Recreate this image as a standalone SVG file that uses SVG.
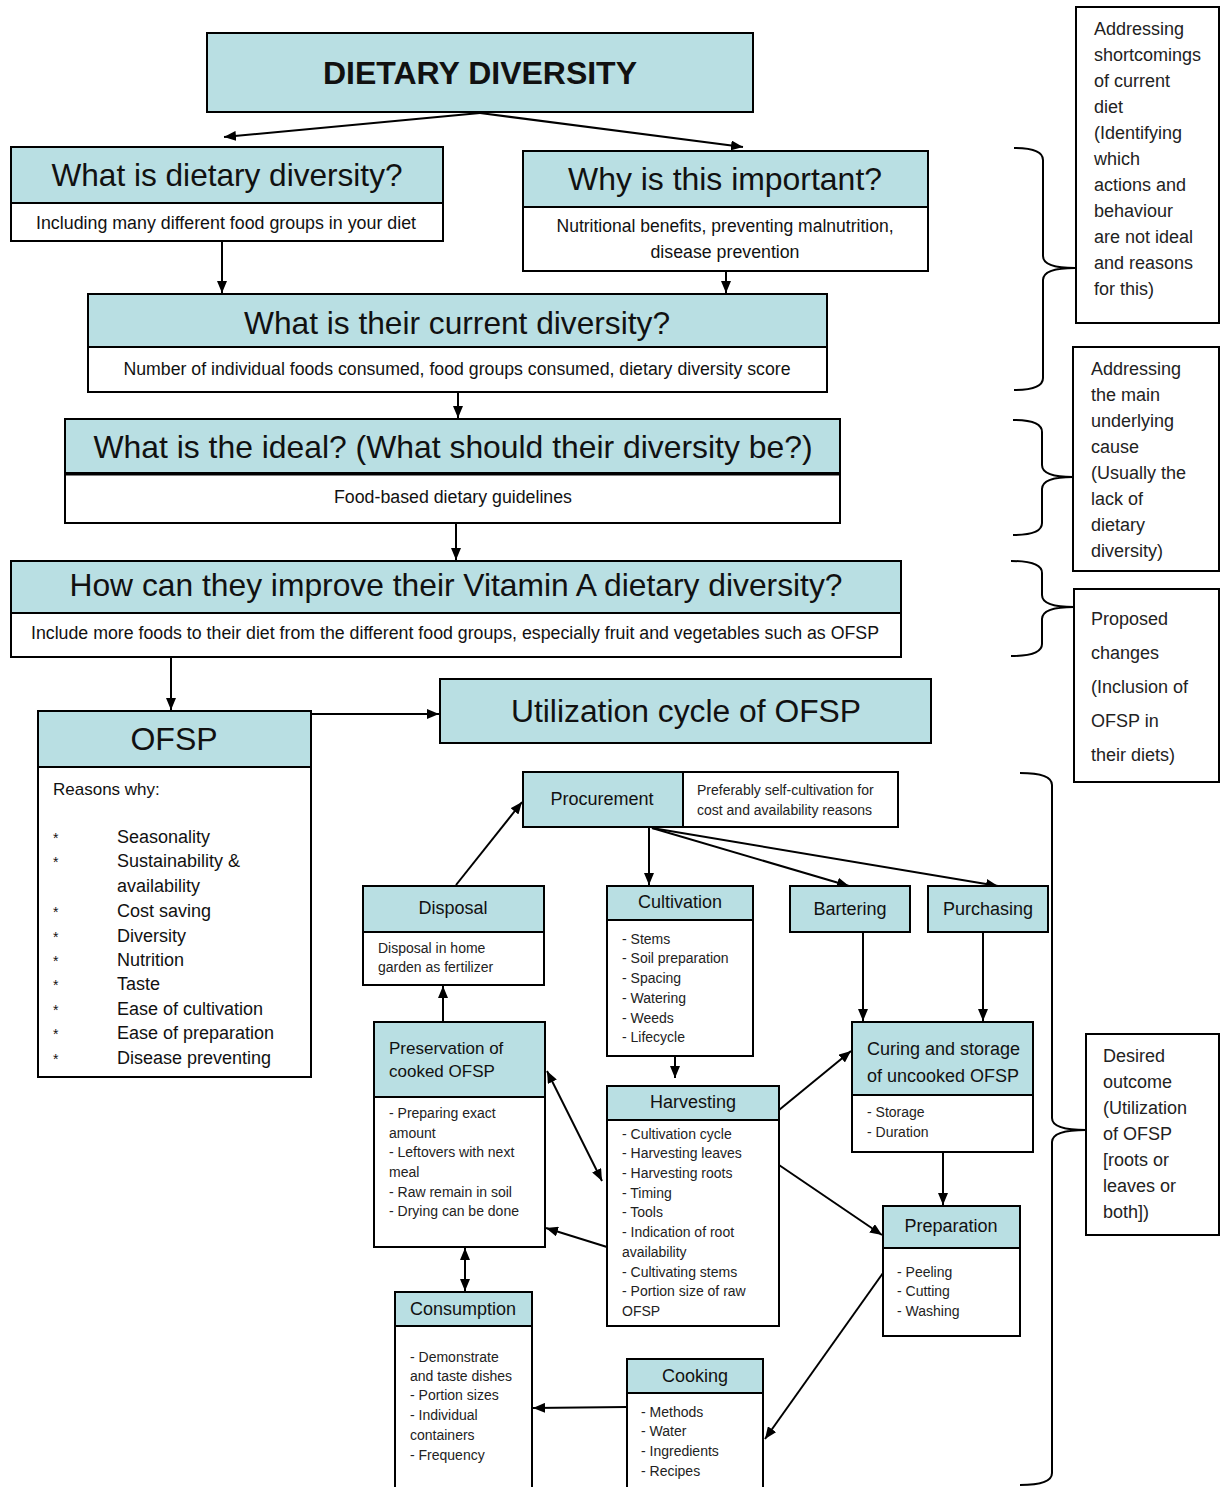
<svg xmlns="http://www.w3.org/2000/svg" width="1221" height="1487" viewBox="0 0 1221 1487">
<defs>
<style>
.h{fill:#B9DFE3;stroke:#000;stroke-width:2}
.b{fill:#fff;stroke:#000;stroke-width:2}
text{font-family:"Liberation Sans",Arial,sans-serif;fill:#111}
.t32{font-size:32px}
.t18{font-size:18px}
.t14{font-size:14px;fill:#222}
.m{text-anchor:middle}
.c{stroke:#000;stroke-width:2;fill:none}
.br{stroke:#000;stroke-width:2;fill:none}
.r{font-size:18px;fill:#222}
</style>
<marker id="arr" viewBox="0 0 12 10" refX="12" refY="5" markerWidth="12" markerHeight="10" markerUnits="userSpaceOnUse" orient="auto-start-reverse">
<path d="M0,0 L12,5 L0,10 z" fill="#000"/>
</marker>
</defs>
<rect width="1221" height="1487" fill="#fff"/>

<g id="connectors">
<line class="c" x1="480" y1="113" x2="224" y2="137" marker-end="url(#arr)"/>
<line class="c" x1="480" y1="113" x2="743" y2="147" marker-end="url(#arr)"/>
<line class="c" x1="222" y1="242" x2="222" y2="293" marker-end="url(#arr)"/>
<line class="c" x1="726" y1="271" x2="726" y2="293" marker-end="url(#arr)"/>
<line class="c" x1="458" y1="392" x2="458" y2="418" marker-end="url(#arr)"/>
<line class="c" x1="456" y1="523" x2="456" y2="560" marker-end="url(#arr)"/>
<line class="c" x1="171" y1="657" x2="171" y2="710" marker-end="url(#arr)"/>
<line class="c" x1="312" y1="714" x2="439" y2="714" marker-end="url(#arr)"/>
<line class="c" x1="456" y1="885" x2="522" y2="802" marker-end="url(#arr)"/>
<line class="c" x1="649" y1="827" x2="649" y2="885" marker-end="url(#arr)"/>
<line class="c" x1="652" y1="828" x2="849" y2="886" marker-end="url(#arr)"/>
<line class="c" x1="652" y1="828" x2="998" y2="886" marker-end="url(#arr)"/>
<line class="c" x1="863" y1="932" x2="863" y2="1021" marker-end="url(#arr)"/>
<line class="c" x1="983" y1="932" x2="983" y2="1021" marker-end="url(#arr)"/>
<line class="c" x1="943" y1="1152" x2="943" y2="1205" marker-end="url(#arr)"/>
<line class="c" x1="675" y1="1056" x2="675" y2="1078" marker-end="url(#arr)"/>
<line class="c" x1="779" y1="1110" x2="851" y2="1051" marker-end="url(#arr)"/>
<line class="c" x1="779" y1="1165" x2="882" y2="1235" marker-end="url(#arr)"/>
<line class="c" x1="607" y1="1247" x2="546" y2="1228" marker-end="url(#arr)"/>
<line class="c" x1="547" y1="1071" x2="602" y2="1181" marker-start="url(#arr)" marker-end="url(#arr)"/>
<line class="c" x1="443" y1="1022" x2="443" y2="986" marker-end="url(#arr)"/>
<line class="c" x1="465" y1="1248" x2="465" y2="1291" marker-start="url(#arr)" marker-end="url(#arr)"/>
<line class="c" x1="627" y1="1407" x2="533" y2="1408" marker-end="url(#arr)"/>
<line class="c" x1="883" y1="1273" x2="765" y2="1439" marker-end="url(#arr)"/>
</g>

<g id="braces">
<path class="br" d="M1014,148 Q1043,148 1043,160 L1043,256 Q1043,268 1075,268 Q1043,268 1043,280 L1043,378 Q1043,390 1014,390"/>
<path class="br" d="M1013,420 Q1042,420 1042,432 L1042,465 Q1042,477 1073,477 Q1042,477 1042,489 L1042,523 Q1042,535 1013,535"/>
<path class="br" d="M1011,561 Q1042,561 1042,573 L1042,595 Q1042,607 1074,607 Q1042,607 1042,619 L1042,644 Q1042,656 1011,656"/>
<path class="br" d="M1020,773 Q1052,773 1052,785 L1052,1118 Q1052,1130 1086,1130 Q1052,1130 1052,1142 L1052,1473 Q1052,1485 1020,1485"/>
</g>

<g id="n-dietary">
<rect class="h" x="207" y="33" width="546" height="79"/>
<text x="480" y="84" class="m" font-size="31" font-weight="bold" textLength="314" lengthAdjust="spacingAndGlyphs">DIETARY DIVERSITY</text>
</g>

<g id="n-what">
<rect class="b" x="11" y="147" width="432" height="94"/>
<rect class="h" x="11" y="147" width="432" height="56"/>
<text x="227" y="186" class="m t32" textLength="351" lengthAdjust="spacingAndGlyphs">What is dietary diversity?</text>
<text x="226" y="229" class="m t18" textLength="380" lengthAdjust="spacingAndGlyphs">Including many different food groups in your diet</text>
</g>

<g id="n-why">
<rect class="b" x="523" y="151" width="405" height="120"/>
<rect class="h" x="523" y="151" width="405" height="56"/>
<text x="725" y="190" class="m t32" textLength="314" lengthAdjust="spacingAndGlyphs">Why is this important?</text>
<text x="725" y="232" class="m t18" textLength="337" lengthAdjust="spacingAndGlyphs">Nutritional benefits, preventing malnutrition,</text>
<text x="725" y="258" class="m t18" textLength="149" lengthAdjust="spacingAndGlyphs">disease prevention</text>
</g>

<g id="n-current">
<rect class="b" x="88" y="294" width="739" height="98"/>
<rect class="h" x="88" y="294" width="739" height="53"/>
<text x="457" y="334" class="m t32" textLength="426" lengthAdjust="spacingAndGlyphs">What is their current diversity?</text>
<text x="457" y="375" class="m t18" textLength="667" lengthAdjust="spacingAndGlyphs">Number of individual foods consumed, food groups consumed, dietary diversity score</text>
</g>

<g id="n-ideal">
<rect class="b" x="65" y="419" width="775" height="104"/>
<rect class="h" x="65" y="419" width="775" height="54"/>
<line x1="65" y1="474" x2="840" y2="474" stroke="#000" stroke-width="3"/>
<text x="453" y="458" class="m t32" textLength="719" lengthAdjust="spacingAndGlyphs">What is the ideal? (What should their diversity  be?)</text>
<text x="453" y="503" class="m t18" textLength="238" lengthAdjust="spacingAndGlyphs">Food-based dietary guidelines</text>
</g>

<g id="n-improve">
<rect class="b" x="11" y="561" width="890" height="96"/>
<rect class="h" x="11" y="561" width="890" height="52"/>
<text x="456" y="596" class="m t32" textLength="773" lengthAdjust="spacingAndGlyphs">How can they improve their Vitamin A dietary diversity?</text>
<text x="455" y="639" class="m t18" textLength="848" lengthAdjust="spacingAndGlyphs">Include more foods to their diet from the different food groups, especially fruit and vegetables such as OFSP</text>
</g>

<g id="n-ofsp">
<rect class="b" x="38" y="711" width="273" height="366"/>
<rect class="h" x="38" y="711" width="273" height="56"/>
<text x="174" y="750" class="m t32">OFSP</text>
<text x="53" y="795" font-size="17" fill="#222">Reasons why:</text>
<g font-size="18" fill="#222">
<text x="53" y="843" font-size="14">*</text><text x="117" y="843">Seasonality</text>
<text x="53" y="867" font-size="14">*</text><text x="117" y="867">Sustainability &amp;</text>
<text x="117" y="892">availability</text>
<text x="53" y="917" font-size="14">*</text><text x="117" y="917">Cost saving</text>
<text x="53" y="942" font-size="14">*</text><text x="117" y="942">Diversity</text>
<text x="53" y="966" font-size="14">*</text><text x="117" y="966">Nutrition</text>
<text x="53" y="990" font-size="14">*</text><text x="117" y="990">Taste</text>
<text x="53" y="1015" font-size="14">*</text><text x="117" y="1015">Ease of cultivation</text>
<text x="53" y="1039" font-size="14">*</text><text x="117" y="1039">Ease of preparation</text>
<text x="53" y="1064" font-size="14">*</text><text x="117" y="1064">Disease preventing</text>
</g>
</g>

<g id="n-util">
<rect class="h" x="440" y="679" width="491" height="64"/>
<text x="686" y="722" class="m" font-size="31" textLength="350" lengthAdjust="spacingAndGlyphs">Utilization cycle of OFSP</text>
</g>

<g id="n-side1">
<rect class="b" x="1076" y="7" width="143" height="316"/>
<text class="r" x="1094" y="35">Addressing</text>
<text class="r" x="1094" y="61">shortcomings</text>
<text class="r" x="1094" y="87">of current</text>
<text class="r" x="1094" y="113">diet</text>
<text class="r" x="1094" y="139">(Identifying</text>
<text class="r" x="1094" y="165">which</text>
<text class="r" x="1094" y="191">actions and</text>
<text class="r" x="1094" y="217">behaviour</text>
<text class="r" x="1094" y="243">are not ideal</text>
<text class="r" x="1094" y="269">and reasons</text>
<text class="r" x="1094" y="295">for this)</text>
</g>

<g id="n-side2">
<rect class="b" x="1073" y="347" width="146" height="224"/>
<text class="r" x="1091" y="375">Addressing</text>
<text class="r" x="1091" y="401">the main</text>
<text class="r" x="1091" y="427">underlying</text>
<text class="r" x="1091" y="453">cause</text>
<text class="r" x="1091" y="479">(Usually the</text>
<text class="r" x="1091" y="505">lack of</text>
<text class="r" x="1091" y="531">dietary</text>
<text class="r" x="1091" y="557">diversity)</text>
</g>

<g id="n-side3">
<rect class="b" x="1074" y="589" width="145" height="193"/>
<text class="r" x="1091" y="625">Proposed</text>
<text class="r" x="1091" y="659">changes</text>
<text class="r" x="1091" y="693">(Inclusion of</text>
<text class="r" x="1091" y="727">OFSP  in</text>
<text class="r" x="1091" y="761">their diets)</text>
</g>

<g id="n-desired">
<rect class="b" x="1086" y="1034" width="133" height="201"/>
<text class="r" x="1103" y="1062">Desired</text>
<text class="r" x="1103" y="1088">outcome</text>
<text class="r" x="1103" y="1114">(Utilization</text>
<text class="r" x="1103" y="1140">of OFSP</text>
<text class="r" x="1103" y="1166">[roots  or</text>
<text class="r" x="1103" y="1192">leaves  or</text>
<text class="r" x="1103" y="1218">both])</text>
</g>

<g id="n-procurement">
<rect class="h" x="523" y="772" width="160" height="55"/>
<text x="602" y="805" class="m t18" fill="#222">Procurement</text>
</g>

<g id="n-procurement-note">
<rect class="b" x="683" y="772" width="215" height="55"/>
<text x="697" y="795" class="t14">Preferably self-cultivation for</text>
<text x="697" y="815" class="t14">cost and availability reasons</text>
</g>

<g id="n-disposal">
<rect class="b" x="363" y="886" width="181" height="99"/>
<rect class="h" x="363" y="886" width="181" height="46"/>
<text x="453" y="914" class="m t18">Disposal</text>
<text x="378" y="953" class="t14">Disposal in home</text>
<text x="378" y="972" class="t14">garden as fertilizer</text>
</g>

<g id="n-cultivation">
<rect class="b" x="607" y="886" width="146" height="170"/>
<rect class="h" x="607" y="886" width="146" height="34"/>
<text x="680" y="908" class="m t18">Cultivation</text>
<text x="622" y="944" class="t14">- Stems</text>
<text x="622" y="963" class="t14">- Soil preparation</text>
<text x="622" y="983" class="t14">- Spacing</text>
<text x="622" y="1003" class="t14">- Watering</text>
<text x="622" y="1023" class="t14">- Weeds</text>
<text x="622" y="1042" class="t14">- Lifecycle</text>
</g>

<g id="n-bartering">
<rect class="h" x="790" y="886" width="120" height="46"/>
<text x="850" y="915" class="m t18">Bartering</text>
</g>

<g id="n-purchasing">
<rect class="h" x="928" y="886" width="120" height="46"/>
<text x="988" y="915" class="m t18">Purchasing</text>
</g>

<g id="n-curing">
<rect class="b" x="852" y="1022" width="181" height="130"/>
<rect class="h" x="852" y="1022" width="181" height="73"/>
<text x="867" y="1055" class="t18">Curing and storage</text>
<text x="867" y="1082" class="t18">of uncooked OFSP</text>
<text x="867" y="1117" class="t14">- Storage</text>
<text x="867" y="1137" class="t14">- Duration</text>
</g>

<g id="n-preparation">
<rect class="b" x="883" y="1206" width="137" height="130"/>
<rect class="h" x="883" y="1206" width="137" height="42"/>
<text x="951" y="1232" class="m t18">Preparation</text>
<text x="897" y="1277" class="t14">- Peeling</text>
<text x="897" y="1296" class="t14">- Cutting</text>
<text x="897" y="1316" class="t14">- Washing</text>
</g>

<g id="n-harvesting">
<rect class="b" x="607" y="1086" width="172" height="240"/>
<rect class="h" x="607" y="1086" width="172" height="34"/>
<text x="693" y="1108" class="m t18">Harvesting</text>
<text x="622" y="1139" class="t14">- Cultivation cycle</text>
<text x="622" y="1158" class="t14">- Harvesting leaves</text>
<text x="622" y="1178" class="t14">- Harvesting roots</text>
<text x="622" y="1198" class="t14">- Timing</text>
<text x="622" y="1217" class="t14">- Tools</text>
<text x="622" y="1237" class="t14">- Indication of root</text>
<text x="622" y="1257" class="t14">availability</text>
<text x="622" y="1277" class="t14">- Cultivating stems</text>
<text x="622" y="1296" class="t14">- Portion size of raw</text>
<text x="622" y="1316" class="t14">OFSP</text>
</g>

<g id="n-preservation">
<rect class="b" x="374" y="1022" width="171" height="225"/>
<rect class="h" x="374" y="1022" width="171" height="75"/>
<text x="389" y="1054" font-size="17">Preservation of</text>
<text x="389" y="1077" font-size="17">cooked OFSP</text>
<text x="389" y="1118" class="t14">- Preparing exact</text>
<text x="389" y="1138" class="t14">amount</text>
<text x="389" y="1157" class="t14">- Leftovers with next</text>
<text x="389" y="1177" class="t14">meal</text>
<text x="389" y="1197" class="t14">- Raw remain in soil</text>
<text x="389" y="1216" class="t14">- Drying can be done</text>
</g>

<g id="n-consumption">
<rect class="b" x="395" y="1292" width="137" height="200"/>
<rect class="h" x="395" y="1292" width="137" height="34"/>
<text x="463" y="1315" class="m t18">Consumption</text>
<text x="410" y="1362" class="t14">- Demonstrate</text>
<text x="410" y="1381" class="t14">and taste dishes</text>
<text x="410" y="1400" class="t14">- Portion sizes</text>
<text x="410" y="1420" class="t14">- Individual</text>
<text x="410" y="1440" class="t14">containers</text>
<text x="410" y="1460" class="t14">- Frequency</text>
</g>

<g id="n-cooking">
<rect class="b" x="627" y="1359" width="136" height="133"/>
<rect class="h" x="627" y="1359" width="136" height="34"/>
<text x="695" y="1382" class="m t18">Cooking</text>
<text x="641" y="1417" class="t14">- Methods</text>
<text x="641" y="1436" class="t14">- Water</text>
<text x="641" y="1456" class="t14">- Ingredients</text>
<text x="641" y="1476" class="t14">- Recipes</text>
</g>
</svg>
